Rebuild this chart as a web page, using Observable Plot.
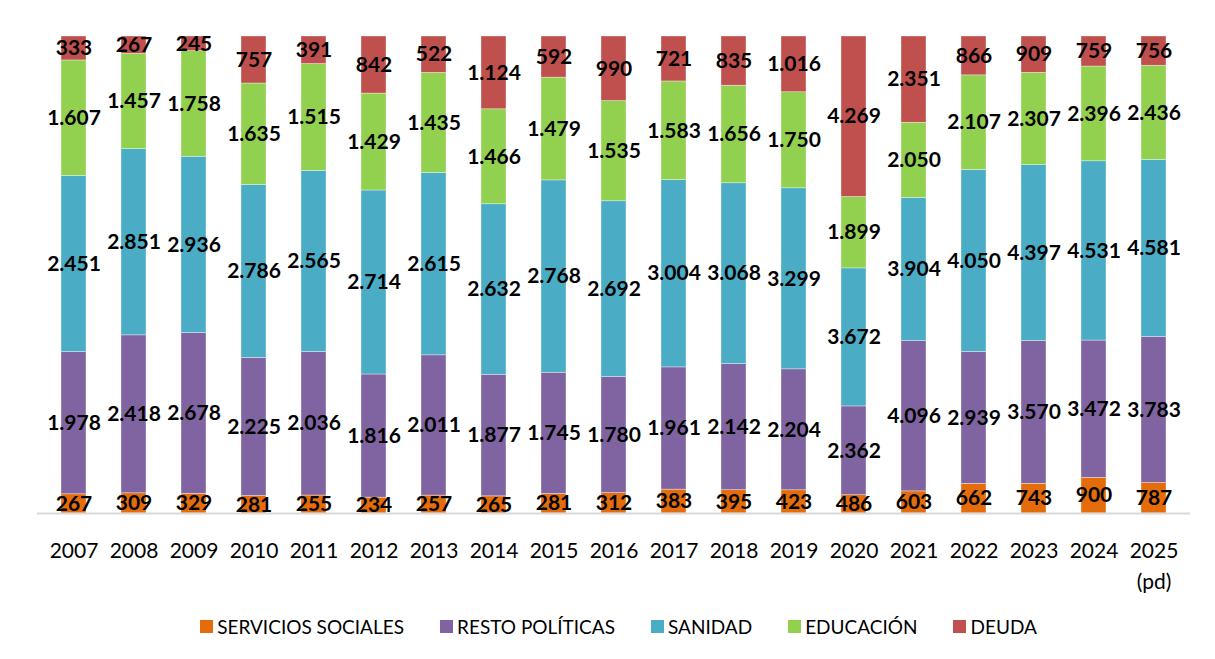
<!DOCTYPE html>
<html>
<head>
<meta charset="utf-8">
<script src="https://cdn.jsdelivr.net/npm/d3@7"></script>
<script src="https://cdn.jsdelivr.net/npm/@observablehq/plot@0.6"></script>
<style>
  html, body { margin: 0; padding: 0; background: #fff; }
  #wrap { width: 1215px; height: 659px; position: relative; font-family: Lato, "Open Sans", sans-serif; }
  #legend { display: flex; justify-content: center; align-items: center; gap: 36px; padding-top: 15px; font-size: 19px; color: #000; padding-left: 22px; }
  #legend .item { display: flex; align-items: center; gap: 4px; }
  #legend .sw { width: 13px; height: 13px; display: inline-block; }
</style>
</head>
<body>
<div id="wrap">
  <div id="chart"></div>
  <div id="legend"></div>
</div>
<script>
const years = ["2007","2008","2009","2010","2011","2012","2013","2014","2015","2016","2017","2018","2019","2020","2021","2022","2023","2024","2025"];
const yearLabels = ["2007","2008","2009","2010","2011","2012","2013","2014","2015","2016","2017","2018","2019","2020","2021","2022","2023","2024","2025\n(pd)"];
const series = ["SERVICIOS SOCIALES","RESTO POLÍTICAS","SANIDAD","EDUCACIÓN","DEUDA"];
const colors = ["#E46C0A","#8064A2","#4BACC6","#92D050","#C0504D"];

const serviciosSociales = [267,309,329,281,255,234,257,265,281,312,383,395,423,486,603,662,743,900,787];
const restoPoliticas   = [1978,2418,2678,2225,2036,1816,2011,1877,1745,1780,1961,2142,2204,2362,4096,2939,3570,3472,3783];
const sanidad          = [2451,2851,2936,2786,2565,2714,2615,2632,2768,2692,3004,3068,3299,3672,3904,4050,4397,4531,4581];
const educacion        = [1607,1457,1758,1635,1515,1429,1435,1466,1479,1535,1583,1656,1750,1899,2050,2107,2307,2396,2436];
const deuda            = [333,267,245,757,391,842,522,1124,592,990,721,835,1016,4269,2351,866,909,759,756];

const valuesBySeries = [serviciosSociales, restoPoliticas, sanidad, educacion, deuda];
const data = [];
series.forEach((s, i) => {
  years.forEach((y, j) => data.push({year: y, serie: s, value: valuesBySeries[i][j]}));
});

const es = d3.formatLocale({decimal: ",", thousands: ".", grouping: [3], currency: ["", " €"]});
const fmt = es.format(",d");
const labelOf = new Map(years.map((y, i) => [y, yearLabels[i]]));

const stackOpts = {x: "year", y: "value", z: "serie", offset: "normalize", order: series};

const chart = Plot.plot({
  width: 1215,
  height: 600,
  marginTop: 36,
  marginBottom: 87,
  marginLeft: 37,
  marginRight: 25,
  style: {fontFamily: "Lato, 'Open Sans', sans-serif", background: "#fff"},
  x: {domain: years, paddingInner: 0.59, paddingOuter: 0.295, label: null, axis: null},
  y: {domain: [0, 1], axis: null},
  color: {domain: series, range: colors},
  marks: [
    Plot.barY(data, Plot.stackY({...stackOpts, fill: "serie", stroke: "#fff", strokeWidth: 0.6, strokeOpacity: 0.6})),
    Plot.ruleY([0], {stroke: "#d9d9d9", strokeWidth: 2}),
    Plot.text(data, Plot.stackY({...stackOpts, text: d => fmt(d.value), fill: "#000", fontWeight: "bold", fontSize: 21})),
    Plot.axisX({tickSize: 0, tickPadding: 23, fontSize: 21, lineHeight: 1.45, fill: "#000", label: null, tickFormat: d => labelOf.get(d)})
  ]
});
document.getElementById("chart").appendChild(chart);

const legend = document.getElementById("legend");
series.forEach((s, i) => {
  const it = document.createElement("div");
  it.className = "item";
  const sw = document.createElement("span");
  sw.className = "sw";
  sw.style.background = colors[i];
  const t = document.createElement("span");
  t.textContent = s;
  it.appendChild(sw);
  it.appendChild(t);
  legend.appendChild(it);
});
</script>
</body>
</html>
